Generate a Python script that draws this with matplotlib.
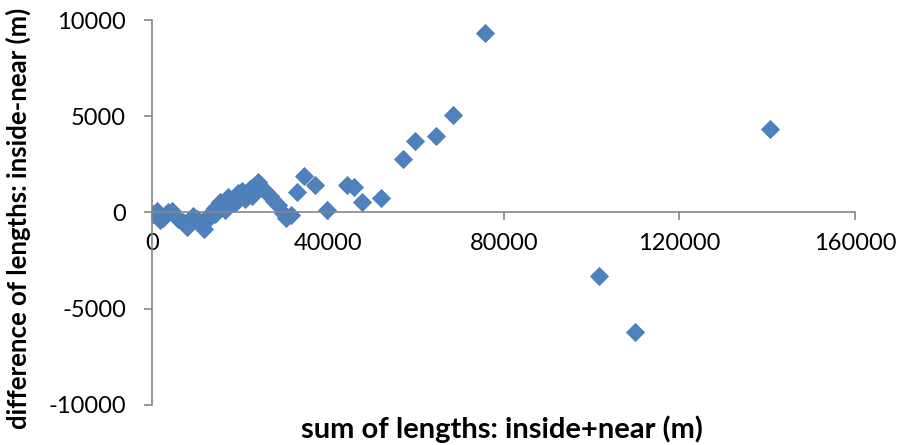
import matplotlib.pyplot as plt

plt.rcParams['font.family'] = ['Lato', 'DejaVu Sans']
plt.rcParams['axes.unicode_minus'] = False

# sum of lengths (inside+near) and difference (inside-near), metres
soma = [200, 1070, 1750, 2440, 3580, 4490, 5860, 7000, 7860, 8130, 9280, 10190,
        11330, 11780, 12010, 13150, 14290, 14290, 15430, 16340, 16570, 17250,
        18390, 18850, 19530, 20440, 21120, 21350, 22260, 22720, 23170, 24090,
        25000, 25910, 26820, 27730, 28640, 29780, 30460, 31600,
        32910, 34410, 37080, 39740, 44300, 45820, 47720, 52060,
        56980, 59720, 64660, 68470, 75830, 101740, 109790, 140630]
diferenca = [-90, 70, -400, -300, 20, 70, -350, -500, -770, -660, -190, -350,
             -610, -870, -500, -90, 220, -90, 540, 330, 120, 800,
             690, 480, 1000, 1110, 690, 950, 1210, 850, 1370, 1580,
             1260, 1050, 850, 590, 380, -40, -300, -140,
             1071, 1888, 1420, 120, 1420, 1331, 551, 740,
             2787, 3723, 3968, 5075, 9308, -3313, -6209, 4316]

fig, ax = plt.subplots(figsize=(9.02, 4.45), dpi=100)
fig.subplots_adjust(left=0.169, right=0.948, top=0.955, bottom=0.09)

ax.plot(soma, diferenca, linestyle='none', marker='D', markersize=9,
        markerfacecolor='#4F81BD', markeredgecolor='#4A7EBB', markeredgewidth=0.6)

ax.set_xlim(0, 160000)
ax.set_ylim(-10000, 10000)
ax.set_xticks([0, 40000, 80000, 120000, 160000])
ax.set_yticks([-10000, -5000, 0, 5000, 10000])

ax.spines['right'].set_visible(False)
ax.spines['top'].set_visible(False)
ax.spines['bottom'].set_position(('data', 0))
for s in ['left', 'bottom']:
    ax.spines[s].set_color('#868686')
    ax.spines[s].set_linewidth(1.2)

ax.tick_params(axis='both', colors='#868686', length=6, width=1.2, labelsize=17,
               labelcolor='black')
ax.tick_params(axis='y', pad=13)
ax.tick_params(axis='x', pad=9)

fig.text(0.557, 0.004, 'sum of lengths: inside+near (m)', ha='center', va='bottom',
         fontsize=21, fontweight='bold')
fig.text(0.02, 0.51, 'difference of lengths: inside-near (m)', ha='center', va='center',
         rotation=90, fontsize=18.5, fontweight='bold')

plt.savefig('out.png', dpi=100)
